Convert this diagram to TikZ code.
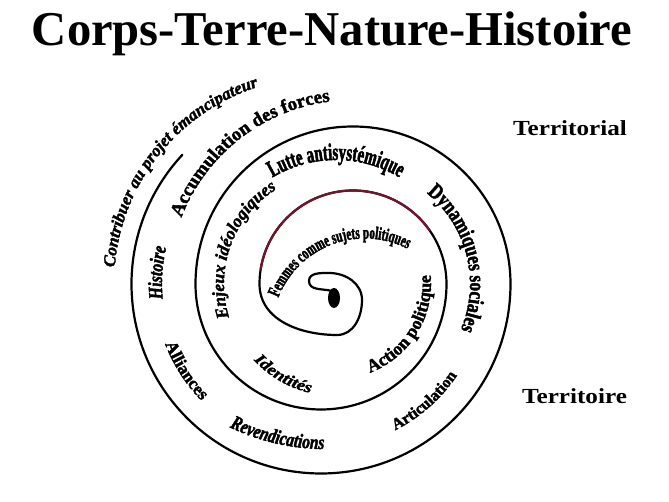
\documentclass[tikz,border=0pt]{standalone}
\usepackage{fontspec}
\setmainfont{Liberation Serif}
\newfontfamily\lblfont[FakeBold=2]{Liberation Serif}
\newfontfamily\condfont[FakeStretch=0.62,FakeBold=2]{Liberation Serif}
\newfontfamily\narrowfont[FakeStretch=0.78,FakeBold=2]{Liberation Serif}
\newfontfamily\widefont[FakeStretch=1.17,FakeBold=2]{Liberation Serif}
\newfontfamily\sidefont[FakeStretch=1.17]{Liberation Serif}
\usetikzlibrary{decorations.text}
\definecolor{spiralred}{RGB}{115,20,45}
\newcommand\fs[1]{\fontsize{#1}{#1}\selectfont}
% text on an arc: centre, radius, mid angle, 1 = ccw / -1 = cw, font, text
\newcommand\arctext[6]{%
  \path[decorate,decoration={text along path,text align=center,text={|#5|#6}}]
    (#1) ++({#3-(#4)*70}:#2) arc[start angle={#3-(#4)*70},end angle={#3+(#4)*70},radius=#2];}

\begin{document}
\begin{tikzpicture}[x=1pt,y=1pt,spiral/.style={line width=2.2pt,line cap=round}]
\useasboundingbox[fill=white] (0,0) rectangle (669,502);
\coordinate (O) at (336,218);\coordinate (L) at (321,218);\coordinate (U) at (353,218);
\coordinate (F) at (365,170.5);\coordinate (R) at (325,272);
\node[anchor=base,font=\bfseries\fs{48.6}] (title) at (332,456) {Corps-Terre-Nature-Histoire};
\node[anchor=base,font=\sidefont\bfseries\fs{21.5}] (terl) at (570,366) {Territorial};
\node[anchor=base,font=\sidefont\bfseries\fs{21.5}] (terr) at (574.5,98) {Territoire};
% spiral
\draw[spiral] (332,211) to[out=165,in=-90] (309,221) to[out=90,in=180] (329,229)
  to[out=0,in=90] (362,202) to[out=-90,in=0] (337,167) to[out=180,in=-90] (259.5,218)
  arc[start angle=180,end angle=0,radius=93.5] arc[start angle=0,end angle=-180,radius=125.5]
  arc[start angle=180,end angle=0,radius=157.5] arc[start angle=0,end angle=-223,radius=189.5];
\draw[spiral,spiralred] (U) ++(171:93.5) arc[start angle=171,end angle=35,radius=93.5];
\fill (334,204) ellipse[x radius=6,y radius=10];
% labels
\arctext{L}{207}{141.5}{-1}{\lblfont\bfseries\itshape\fs{17}}{Contribuer au projet émancipateur}
\arctext{U}{184}{128}{-1}{\lblfont\bfseries\fs{19}}{Accumulation des forces}
\arctext{L}{159}{176}{-1}{\narrowfont\bfseries\itshape\fs{20}}{Histoire}
\arctext{O}{112}{159.6}{-1}{\lblfont\bfseries\itshape\fs{17.5}}{Enjeux idéologiques}
\arctext{O}{124}{90}{-1}{\condfont\bfseries\fs{24}}{Lutte antisystémique}
\arctext{F}{93}{110.7}{-1}{\condfont\bfseries\fs{18}}{Femmes comme sujets politiques}
\arctext{U}{117}{14}{-1}{\narrowfont\bfseries\fs{22}}{Dynamiques sociales}
\arctext{O}{95}{-31.8}{1}{\lblfont\bfseries\fs{18}}{Action politique}
\arctext{O}{112}{239.8}{1}{\widefont\bfseries\itshape\fs{16}}{Identités}
\arctext{L}{167}{212.7}{1}{\lblfont\bfseries\fs{17.5}}{Alliances}
\arctext{R}{219}{257}{1}{\narrowfont\bfseries\itshape\fs{20}}{Revendications}
\arctext{L}{164}{-48.5}{1}{\lblfont\bfseries\fs{16}}{Articulation}
\end{tikzpicture}
\end{document}
